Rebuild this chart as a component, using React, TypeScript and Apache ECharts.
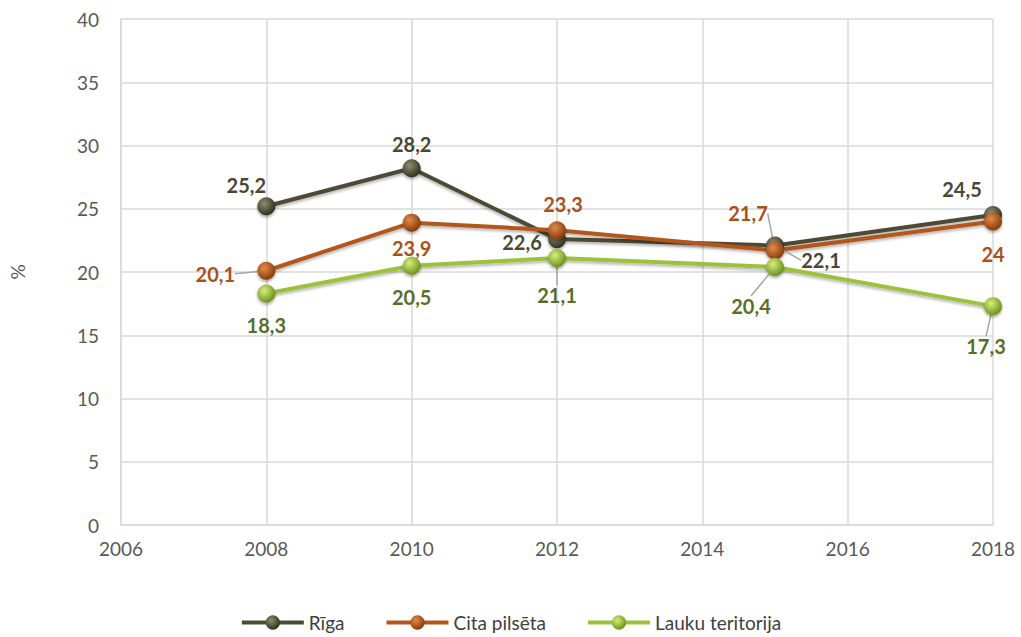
import React, { useEffect, useRef } from "react";
import * as echarts from "echarts";

const years = [2008, 2010, 2012, 2015, 2018];
const riga = [25.2, 28.2, 22.6, 22.1, 24.5];
const cita = [20.1, 23.9, 23.3, 21.7, 24];
const lauku = [18.3, 20.5, 21.1, 20.4, 17.3];
const seriesNames = ["Rīga", "Cita pilsēta", "Lauku teritorija"];

// label offsets (dx, dy) relative to point, and whether a leader line is shown
const offsets: number[][][] = [
  [[-20, -21], [0, -24], [-35, 3], [46, 15], [-31, -26]],
  [[-51, 3], [0, 25], [6, -26], [-27, -37], [0, 33]],
  [[0, 31], [0, 31], [0, 37], [-24, 39], [-7, 40]],
];
const leaders: boolean[][] = [
  [false, false, false, true, false],
  [true, false, false, true, false],
  [false, false, true, true, true],
];

const FONT = "Lato, 'Noto Sans', sans-serif";

function fmt(v: number) {
  return String(v).replace(".", ",");
}

export default function App() {
  const ref = useRef<HTMLDivElement>(null);
  useEffect(() => {
    if (!ref.current) return;
    const chart = echarts.init(ref.current, undefined, { renderer: "svg" });
    const defs = [
      { vals: riga, line: "#4d4a35", light: "#8f8b70", dark: "#34321f", label: "#4a4834" },
      { vals: cita, line: "#b3561b", light: "#e08a4c", dark: "#8a3c0c", label: "#a8521b" },
      { vals: lauku, line: "#9cc23a", light: "#d6ef7a", dark: "#6f9420", label: "#5b6e29" },
    ];
    const series = defs.map((d, si) => ({
      name: seriesNames[si],
      type: "line",
      data: d.vals.map((v, i) => ({
        value: [years[i], v],
        labelLine: { show: leaders[si][i], lineStyle: { color: "#a6a6a6", width: 1.5 } },
      })),
      symbol: "circle",
      symbolSize: 18,
      lineStyle: {
        color: d.line,
        width: 4,
        shadowBlur: 3,
        shadowColor: "rgba(0,0,0,0.3)",
        shadowOffsetY: 2,
      },
      itemStyle: {
        color: {
          type: "radial",
          x: 0.38,
          y: 0.35,
          r: 0.65,
          colorStops: [
            { offset: 0, color: d.light },
            { offset: 1, color: d.dark },
          ],
        },
        borderWidth: 0,
        shadowBlur: 3,
        shadowColor: "rgba(0,0,0,0.35)",
        shadowOffsetY: 2,
      },
      label: {
        show: true,
        position: "inside",
        formatter: (p: any) => fmt(p.value[1]),
        color: d.label,
        fontFamily: FONT,
        fontWeight: "bold",
        fontSize: 20,
      },
      labelLayout: (p: any) => ({
        dx: offsets[si][p.dataIndex][0],
        dy: offsets[si][p.dataIndex][1],
      }),
    }));
    chart.setOption({
      animation: false,
      backgroundColor: "#ffffff",
      color: defs.map((d) => d.line),
      grid: { left: 121, right: 28, top: 19, bottom: 112 },
      xAxis: {
        type: "value",
        min: 2006,
        max: 2018,
        interval: 2,
        axisLine: { show: true, lineStyle: { color: "#d9d9d9", width: 1.5 } },
        axisTick: { show: false },
        splitLine: { show: true, lineStyle: { color: "#d9d9d9", width: 1.5 } },
        axisLabel: {
          color: "#595959",
          fontSize: 19,
          fontFamily: FONT,
          margin: 14,
          formatter: (v: number) => String(v),
        },
      },
      yAxis: {
        type: "value",
        min: 0,
        max: 40,
        interval: 5,
        name: "%",
        nameLocation: "middle",
        nameGap: 94,
        nameTextStyle: { color: "#595959", fontSize: 19, fontFamily: FONT },
        axisLine: { show: true, lineStyle: { color: "#d9d9d9", width: 1.5 } },
        axisTick: { show: false },
        splitLine: { show: true, lineStyle: { color: "#d9d9d9", width: 1.5 } },
        axisLabel: { color: "#595959", fontSize: 19, fontFamily: FONT, margin: 22 },
      },
      legend: {
        bottom: 0,
        left: "center",
        itemWidth: 62,
        itemHeight: 18,
        itemGap: 40,
        lineStyle: { width: 4, shadowBlur: 0 },
        textStyle: { color: "#404040", fontSize: 19, fontFamily: FONT },
        data: seriesNames,
      },
      series,
    });
    return () => chart.dispose();
  }, []);
  return (
    <div
      ref={ref}
      style={{ position: "fixed", left: 0, top: 0, width: 1021, height: 637 }}
    />
  );
}
